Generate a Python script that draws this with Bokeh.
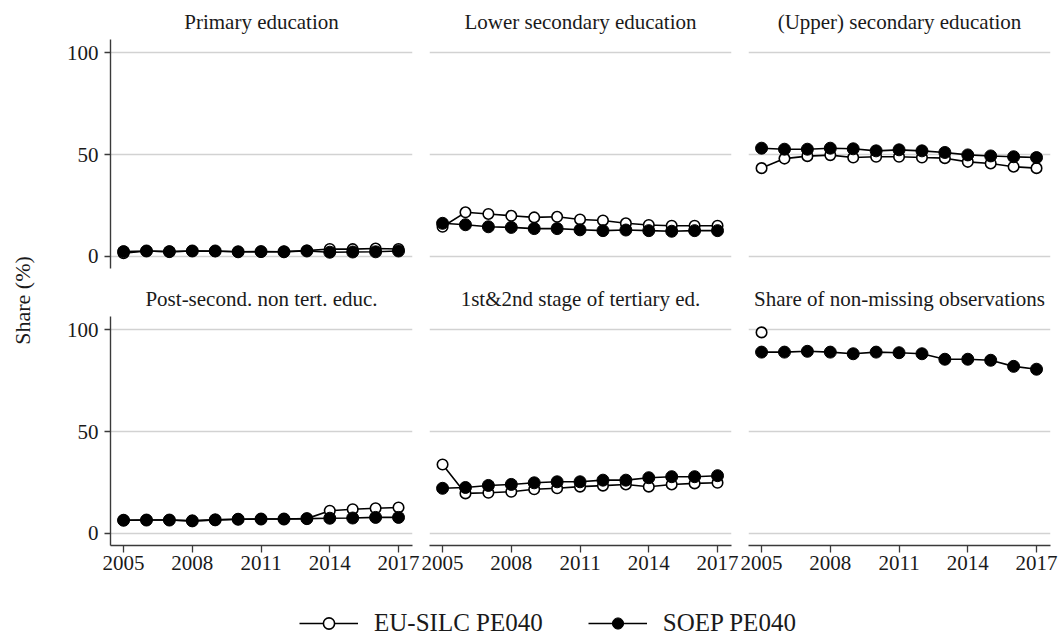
from bokeh.plotting import figure
from bokeh.layouts import row, column
from bokeh.models import (Range1d, FixedTicker, Legend, LegendItem,
                          ColumnDataSource)
from bokeh.embed import file_html
from bokeh.resources import INLINE

NaN = float("nan")

years = [2005, 2006, 2007, 2008, 2009, 2010, 2011, 2012, 2013, 2014, 2015, 2016, 2017]
x_ticks = [2005, 2008, 2011, 2014, 2017]
y_ticks = [0, 50, 100]

titles = ["Primary education", "Lower secondary education", "(Upper) secondary education",
          "Post-second. non tert. educ.", "1st&2nd stage of tertiary ed.",
          "Share of non-missing observations"]

series_names = ["EU-SILC PE040", "SOEP PE040"]
y_title = "Share (%)"

primary_eu = [1.5, 2.6, 2.2, 2.6, 2.5, 2.2, 2.2, 2.3, 2.8, 3.6, 3.5, 3.8, 3.6]
primary_soep = [2.3, 2.6, 2.3, 2.6, 2.6, 2.2, 2.3, 2.2, 2.6, 2.0, 2.1, 2.2, 2.6]
lower_eu = [14.5, 21.6, 20.8, 19.9, 19.1, 19.4, 18.1, 17.6, 16.2, 15.4, 15.0, 15.0, 15.0]
lower_soep = [16.2, 15.5, 14.5, 14.2, 13.6, 13.6, 13.0, 12.6, 12.9, 12.6, 12.3, 12.6, 12.6]
upper_eu = [43.3, 48.0, 49.2, 49.7, 48.5, 48.9, 48.9, 48.5, 48.2, 46.4, 45.6, 44.0, 43.3]
upper_soep = [53.1, 52.6, 52.6, 53.1, 52.8, 51.8, 52.3, 51.8, 51.0, 49.8, 49.3, 48.9, 48.5]
post_eu = [6.4, 6.5, 6.5, 6.1, 6.6, 6.9, 7.0, 7.0, 7.2, 11.1, 11.8, 12.3, 12.7]
post_soep = [6.4, 6.5, 6.5, 6.1, 6.6, 6.9, 7.0, 7.0, 7.2, 7.4, 7.5, 7.8, 7.8]
tert_eu = [33.8, 19.6, 19.9, 20.4, 21.6, 22.1, 22.9, 23.4, 24.0, 22.9, 24.0, 24.5, 24.8]
tert_soep = [22.1, 22.5, 23.5, 24.0, 24.8, 25.3, 25.3, 26.1, 26.1, 27.3, 27.8, 27.8, 28.3]
nonmiss_eu = [98.7, NaN, NaN, NaN, NaN, NaN, NaN, NaN, NaN, NaN, NaN, NaN, NaN]
nonmiss_soep = [89.0, 89.0, 89.4, 89.0, 88.2, 89.0, 88.7, 88.2, 85.5, 85.5, 85.0, 82.0, 80.6]

eu_series = [primary_eu, lower_eu, upper_eu, post_eu, tert_eu, nonmiss_eu]
soep_series = [primary_soep, lower_soep, upper_soep, post_soep, tert_soep, nonmiss_soep]

FONT = "Liberation Serif"
TXT = "#1a1a1a"
AXC = "#3a3a3a"
GRIDC = "#d2d2d2"

FW, FH = 302, 229


def style_axis(ax, ticks, tick_out, standoff):
    ax.ticker = FixedTicker(ticks=ticks)
    ax.axis_line_color = AXC
    ax.axis_line_width = 1.4
    ax.major_tick_line_color = AXC
    ax.major_tick_line_width = 1.3
    ax.major_tick_out = tick_out
    ax.major_tick_in = 0
    ax.minor_tick_line_color = None
    ax.major_label_standoff = standoff
    ax.major_label_text_font = FONT
    ax.major_label_text_font_size = "21px"
    ax.major_label_text_color = TXT


def make_panel(i):
    r, c = divmod(i, 3)
    left = c == 0
    bottom = r == 1
    p = figure(
        frame_width=FW, frame_height=FH,
        x_range=Range1d(2004.43, 2017.61), y_range=Range1d(-6.0, 106.5),
        x_axis_location="below" if bottom else None,
        y_axis_location="left" if left else None,
        output_backend="svg", toolbar_location=None,
        title=titles[i],
    )
    p.min_border_left = 58 if left else 9
    p.min_border_right = 8
    p.min_border_top = 39 if r == 0 else 38
    p.min_border_bottom = 10 if r == 0 else 48
    p.outline_line_color = None
    p.background_fill_color = "white"
    p.border_fill_color = "white"

    p.title.align = "center"
    p.title.text_font = FONT
    p.title.text_font_size = "21px"
    p.title.text_font_style = "normal"
    p.title.text_color = TXT
    p.title.standoff = 11

    p.xgrid.visible = False
    p.ygrid.ticker = FixedTicker(ticks=y_ticks)
    p.ygrid.grid_line_color = GRIDC
    p.ygrid.grid_line_width = 1.3

    for ax in p.yaxis:
        style_axis(ax, y_ticks, 6, 6)
    for ax in p.xaxis:
        style_axis(ax, x_ticks, 7, 3)

    src_eu = ColumnDataSource(dict(x=years, y=eu_series[i]))
    src_so = ColumnDataSource(dict(x=years, y=soep_series[i]))
    p.line("x", "y", source=src_eu, line_color="black", line_width=1.6)
    p.scatter("x", "y", source=src_eu, marker="circle", size=10.5,
              fill_color="white", line_color="black", line_width=1.6)
    p.line("x", "y", source=src_so, line_color="black", line_width=1.6)
    p.scatter("x", "y", source=src_so, marker="circle", size=12,
              fill_color="black", line_color="black", line_width=1)
    return p


panels = [make_panel(i) for i in range(6)]

# y-axis title spanning both rows (axis label of an empty, tick-less axis)
lab = figure(frame_width=1, frame_height=584, min_border_left=51, min_border_right=0,
             min_border_top=8, min_border_bottom=0,
             x_range=Range1d(0, 1), y_range=Range1d(0, 1),
             x_axis_location=None, y_axis_location="left",
             output_backend="svg", toolbar_location=None)
lab.outline_line_color = None
lab.xgrid.visible = False
lab.ygrid.visible = False
for ax in lab.yaxis:
    ax.axis_label = y_title
    ax.axis_label_text_font = FONT
    ax.axis_label_text_font_size = "22px"
    ax.axis_label_text_font_style = "normal"
    ax.axis_label_text_color = TXT
    ax.axis_label_standoff = 17
    ax.axis_line_color = None
    ax.major_tick_line_color = None
    ax.minor_tick_line_color = None
    ax.major_label_text_font_size = "0px"
    ax.major_label_text_color = None
    ax.ticker = FixedTicker(ticks=[])

# legend strip
leg = figure(frame_width=1050, frame_height=46, x_range=Range1d(0, 1),
             y_range=Range1d(0, 1), x_axis_location=None, y_axis_location=None,
             output_backend="svg", toolbar_location=None, min_border=0)
leg.outline_line_color = None
leg.xgrid.visible = False
leg.ygrid.visible = False
empty1 = ColumnDataSource(dict(x=[NaN], y=[NaN]))
empty2 = ColumnDataSource(dict(x=[NaN], y=[NaN]))
l1 = leg.line("x", "y", source=empty1, line_color="black", line_width=1.6)
s1 = leg.scatter("x", "y", source=empty1, marker="circle", size=10.5,
                 fill_color="white", line_color="black", line_width=1.6)
l2 = leg.line("x", "y", source=empty2, line_color="black", line_width=1.6)
s2 = leg.scatter("x", "y", source=empty2, marker="circle", size=12,
                 fill_color="black", line_color="black")
legend = Legend(items=[LegendItem(label=series_names[0], renderers=[l1, s1], index=0),
                       LegendItem(label=series_names[1], renderers=[l2, s2], index=0)],
                orientation="horizontal", location=(299, 2),
                glyph_width=59, glyph_height=28, label_height=28,
                label_standoff=16, spacing=45, padding=0, margin=0,
                label_text_font=FONT, label_text_font_size="25px",
                label_text_color=TXT, border_line_color=None,
                background_fill_alpha=0)
leg.add_layout(legend)

grid = column(row(panels[0], panels[1], panels[2]), row(panels[3], panels[4], panels[5]))
layout = column(row(lab, grid), leg)

open("out.html", "w").write(file_html(layout, INLINE))
